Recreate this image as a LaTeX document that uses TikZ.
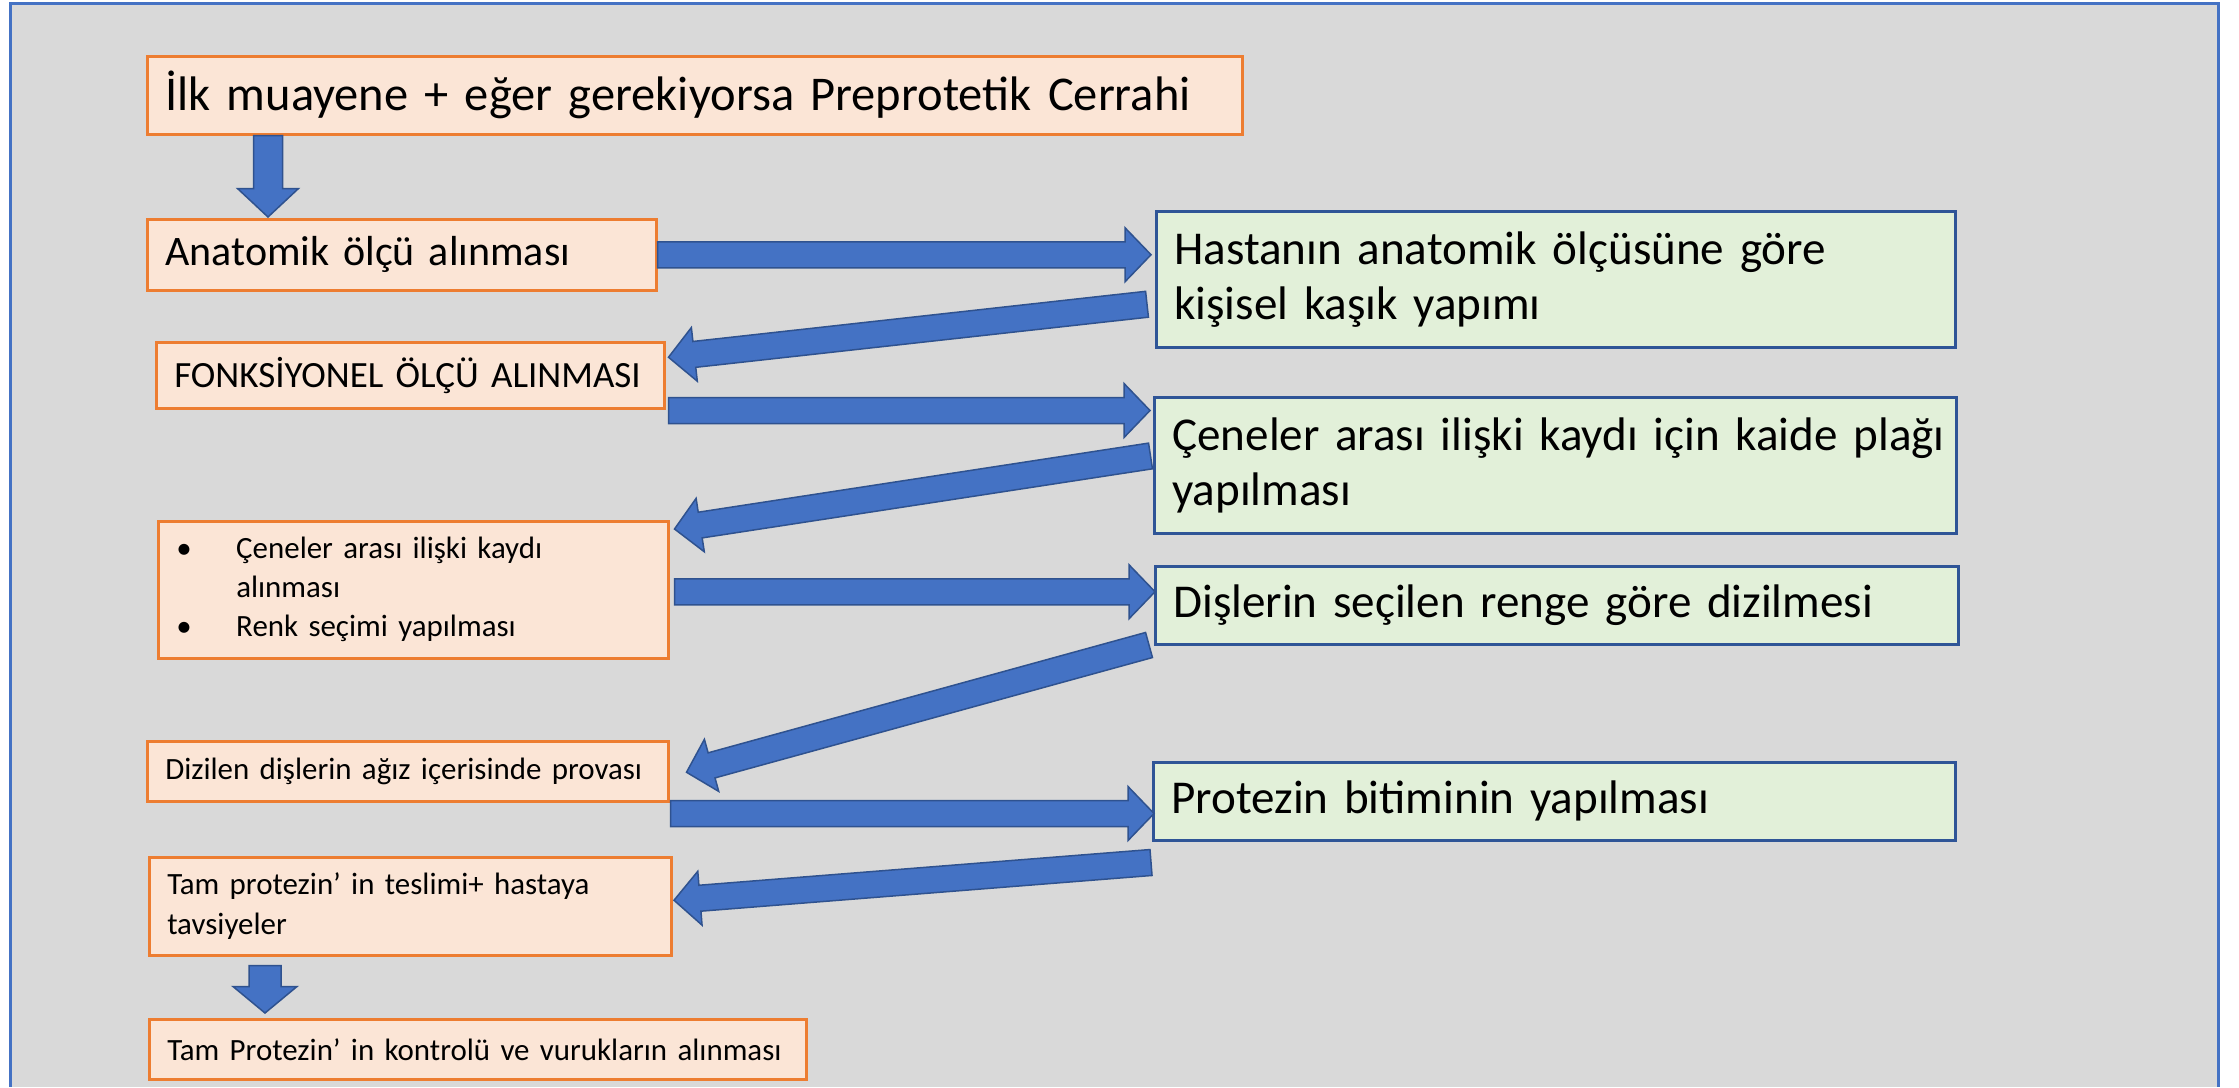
\documentclass[tikz,border=0pt]{standalone}
\usepackage{fontspec}
\setmainfont{Carlito}
\usepackage{tikz}
\usetikzlibrary{calc}
\definecolor{bgGray}{HTML}{D9D9D9}
\definecolor{frameBlue}{HTML}{4472C4}
\definecolor{clinicFill}{HTML}{FBE5D6}
\definecolor{clinicLine}{HTML}{ED7D31}
\definecolor{labFill}{HTML}{E2F0D9}
\definecolor{labLine}{HTML}{2F5597}
\definecolor{arrowFill}{HTML}{4472C4}
\definecolor{arrowLine}{HTML}{2F528F}
\newcommand{\blockArrow}[5]{
\path (#1) coordinate (ta) (#2) coordinate (tb);
\path ($(tb)!#5!(ta)$) coordinate (th);
\filldraw [fill=arrowFill,draw=arrowLine,line width=0.15mm,line join=miter] ($(ta)!#3!90:(tb)$) -- ($(th)!#3!90:(tb)$) -- ($(th)!#4!90:(tb)$) -- (tb) -- ($(th)!#4!-90:(tb)$) -- ($(th)!#3!-90:(tb)$) -- ($(ta)!#3!-90:(tb)$) -- cycle;
}
\newcommand{\bigFont}{\fontsize{13.8}{15.4}\selectfont}
\newcommand{\labFont}{\fontsize{13.4}{15.6}\selectfont}
\newcommand{\midFont}{\fontsize{11.95}{14}\selectfont}
\newcommand{\capsFont}{\fontsize{10.53}{12.6}\selectfont}
\newcommand{\smallFont}{\fontsize{8.8}{11}\selectfont}
\tikzset{
clinicBox/.style={draw=clinicLine,fill=clinicFill,line width=0.25mm,anchor=north west,inner xsep=1.8mm,inner ysep=0pt,align=left},
labBox/.style={draw=labLine,fill=labFill,line width=0.25mm,anchor=north west,inner xsep=1.8mm,inner ysep=0pt,align=left,font=\labFont}
}

\begin{document}
\begin{tikzpicture}[x=0.1mm,y=-0.1mm]
\useasboundingbox (0,0) rectangle (2239,1087);
\fill [bgGray] (10.5,3) rectangle (2218,1087);
\draw [frameBlue,line width=0.3mm] (10.5,1087) -- (10.5,3) -- (2218,3) -- (2218,1087);
% clinic steps
\node (ilk) at (146,55) [clinicBox,text width=105.9mm,minimum height=7.8mm,font=\bigFont] {\mbox{İlk muayene + eğer gerekiyorsa Preprotetik Cerrahi}};
\node (anat) at (146,218) [clinicBox,text width=47.3mm,minimum height=7.1mm,font=\midFont] {Anatomik ölçü alınması};
\node (fonk) at (155,341) [clinicBox,text width=47.2mm,minimum height=6.6mm,font=\capsFont] {FONKSİYONEL ÖLÇÜ ALINMASI};
\node (cene) at (157,520) [clinicBox,text width=47.4mm,minimum height=13.7mm,font=\fontsize{8.8}{11.1}\selectfont] {\makebox[6mm][l]{\textbullet}Çeneler arası ilişki kaydı\\\hspace*{6mm}alınması\\\makebox[6mm][l]{\textbullet}Renk seçimi yapılması};
\node (dizilen) at (146,740) [clinicBox,text width=48.5mm,minimum height=6mm,font=\smallFont] {\mbox{Dizilen dişlerin ağız içerisinde provası}};
\node (teslim) at (148,856) [clinicBox,text width=48.6mm,minimum height=9.8mm,font=\fontsize{8.8}{11.4}\selectfont] {Tam protezin’ in teslimi+ hastaya\\tavsiyeler};
\node (kontrol) at (148,1018) [clinicBox,text width=62.1mm,minimum height=6mm,font=\smallFont] {\mbox{Tam Protezin’ in kontrolü ve vurukların alınması}};
% lab steps
\node (hasta) at (1155,210) [labBox,text width=76.3mm,minimum height=13.6mm] {Hastanın anatomik ölçüsüne göre\\kişisel kaşık yapımı};
\node (kaide) at (1153,396) [labBox,text width=76.6mm,minimum height=13.6mm] {\mbox{Çeneler arası ilişki kaydı için kaide plağı}\\yapılması};
\node (renk) at (1154,565) [labBox,text width=76.7mm,minimum height=7.8mm] {Dişlerin seçilen renge göre dizilmesi};
\node (bitim) at (1152,761) [labBox,text width=76.6mm,minimum height=7.8mm] {Protezin bitiminin yapılması};
% arrows
\blockArrow{$(ilk.south west)+(122,0)$}{$(anat.north west)+(122,-1)$}{1.45mm}{3.05mm}{2.85mm}
\blockArrow{anat.east}{$(anat.east -| hasta.west)+(-4,0)$}{1.3mm}{2.7mm}{2.6mm}
\blockArrow{$(hasta.west)+(-8,25)$}{$(fonk.east)+(3,-18)$}{1.3mm}{2.7mm}{2.6mm}
\blockArrow{$(fonk.south east)+(3,1)$}{$(fonk.south east -| kaide.west)+(-3,1)$}{1.3mm}{2.7mm}{2.6mm}
\blockArrow{$(kaide.west)+(-2.5,-9.3)$}{$(cene.north east)+(5,9)$}{1.3mm}{2.7mm}{2.6mm}
\blockArrow{$(cene.east)+(5,2)$}{$(cene.east -| renk.west)+(1,2)$}{1.3mm}{2.7mm}{2.6mm}
\blockArrow{$(renk.south west)+(-5,-0.5)$}{$(dizilen.east)+(17,1)$}{1.3mm}{2.7mm}{2.6mm}
\blockArrow{$(dizilen.south east)+(1,11)$}{$(dizilen.south east -| bitim.west)+(2,11)$}{1.3mm}{2.7mm}{2.6mm}
\blockArrow{$(bitim.south west)+(-1,21)$}{$(teslim.east)+(1.5,-6)$}{1.3mm}{2.7mm}{2.6mm}
\blockArrow{$(teslim.south west)+(117,9)$}{$(kontrol.north west)+(117,-5)$}{1.6mm}{3.2mm}{2.65mm}
\end{tikzpicture}
\end{document}
